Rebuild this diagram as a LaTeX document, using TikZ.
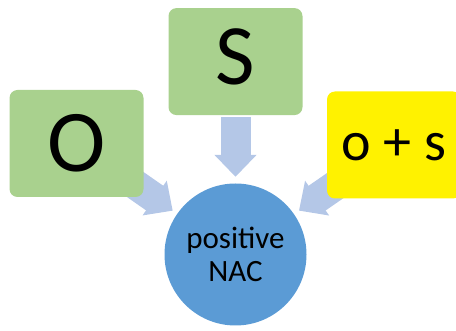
\documentclass[tikz,border=0pt]{standalone}
\usepackage{fontspec}
\setmainfont{Carlito}
\usetikzlibrary{arrows.meta, positioning, backgrounds}
\definecolor{leafgreen}{HTML}{A9D18E}
\definecolor{flowblue}{HTML}{B4C7E7}
\definecolor{hubblue}{HTML}{5B9BD5}

\begin{document}
\begin{tikzpicture}[
    every node/.style={align=center, inner sep=0pt},
    card/.style={rectangle, fill=leafgreen, rounded corners=8pt, minimum width=134pt, minimum height=107pt},
    hub/.style={circle, fill=hubblue, minimum size=142pt, font=\fontsize{31}{33}\selectfont},
    flow/.style={-{Triangle[length=22pt, width=41pt]}, line width=30pt, draw=flowblue}
]
\useasboundingbox (0,0) rectangle (456pt,-331pt);

% Nodes
\node (nac) [hub] at (235.5pt,-254.5pt) {positive\\NAC};
\node (sbox) [card, above=68pt of nac, text depth=10pt, font=\fontsize{86}{86}\selectfont] {S};
\node (obox) [card, font=\fontsize{88}{88}\selectfont] at (76.5pt,-143.5pt) {O};
\node (osbox) [card, fill=yellow, font=\fontsize{56}{56}\selectfont] at (394pt,-145pt) {o + s};

% Arrows
\begin{scope}[on background layer]
\draw [flow, shorten <=2pt, shorten >=6.5pt] (sbox) -- (nac);
\draw [flow, shorten >=5.4pt] (obox.center) -- (nac);
\draw [flow, shorten >=6pt] (osbox.center) -- (nac);
\end{scope}

\end{tikzpicture}
\end{document}
